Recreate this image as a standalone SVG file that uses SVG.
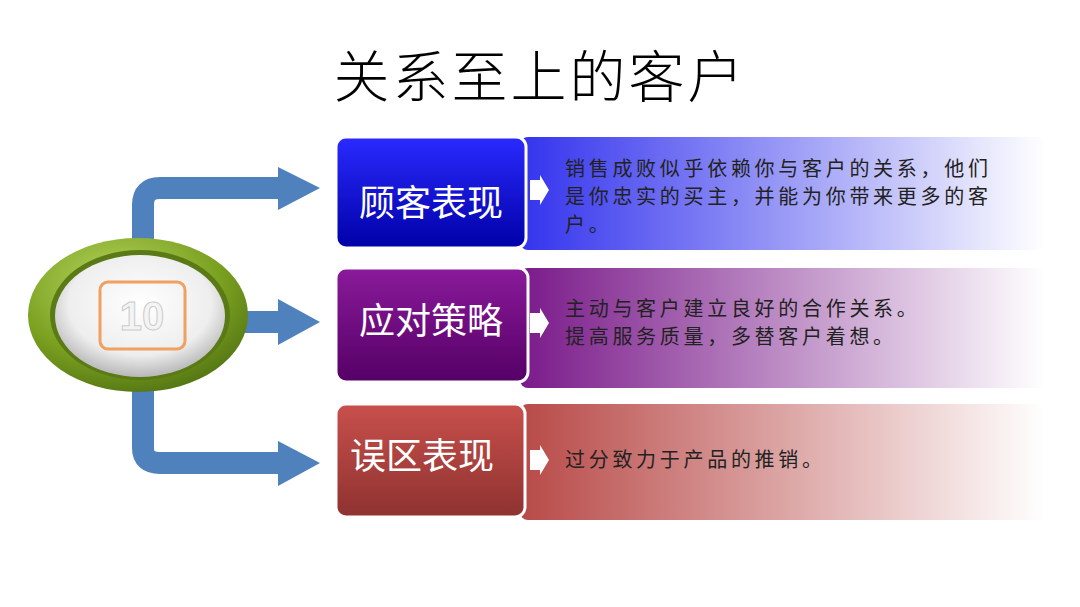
<svg xmlns="http://www.w3.org/2000/svg" width="1080" height="607" viewBox="0 0 1080 607">
<style>
.lbl{font-family:"Noto Sans CJK SC",sans-serif;font-size:36px;fill:#fff}
.desc{font-family:"Noto Sans CJK SC",sans-serif;font-size:20px;letter-spacing:3.7px;fill:#222}
.conn{fill:none;stroke:#4f81bd;stroke-width:22}
.head{fill:#4f81bd}
.box{stroke:#fff;stroke-width:3}
.sm{fill:#fff}
</style>
<defs>
<linearGradient id="gb" x1="0" y1="0" x2="0" y2="1"><stop offset="0" stop-color="#2a2aff"/><stop offset="1" stop-color="#0000a8"/></linearGradient>
<linearGradient id="gp" x1="0" y1="0" x2="0" y2="1"><stop offset="0" stop-color="#8a1a9a"/><stop offset="1" stop-color="#550066"/></linearGradient>
<linearGradient id="gr" x1="0" y1="0" x2="0" y2="1"><stop offset="0" stop-color="#c8504c"/><stop offset="1" stop-color="#8e3230"/></linearGradient>
<linearGradient id="bb"><stop offset="0" stop-color="#3333ee"/><stop offset="1" stop-color="#fff"/></linearGradient>
<linearGradient id="bp"><stop offset="0" stop-color="#7a1a8a"/><stop offset="1" stop-color="#fff"/></linearGradient>
<linearGradient id="br"><stop offset="0" stop-color="#b84a48"/><stop offset="1" stop-color="#fff"/></linearGradient>
<radialGradient id="green" cx="0.4" cy="0.3" r="0.8"><stop offset="0" stop-color="#b8d860"/><stop offset="0.6" stop-color="#7aa020"/><stop offset="1" stop-color="#4a6a10"/></radialGradient>
<radialGradient id="white" cx="0.5" cy="0.4" r="0.7"><stop offset="0" stop-color="#fff"/><stop offset="0.6" stop-color="#eee"/><stop offset="1" stop-color="#999"/></radialGradient>
</defs>
<text x="540" y="97" text-anchor="middle" font-family="Noto Sans CJK SC,sans-serif" font-weight="300" font-size="56" letter-spacing="3" fill="#000">关系至上的客户</text>
<g id="connectors">
<path class="conn" d="M143 245 V205 Q143 188 160 188 H285"/>
<polygon class="head" points="278,167 320,188 278,210"/>
<path class="conn" d="M240 322 H285"/>
<polygon class="head" points="278,299 320,322 278,345"/>
<path class="conn" d="M143 385 V448 Q143 463 160 463 H285"/>
<polygon class="head" points="278,441 320,463 278,486"/>
</g>
<g id="center">
<ellipse cx="138" cy="315" rx="110" ry="77" fill="url(#green)"/>
<ellipse cx="140" cy="315" rx="90" ry="65" fill="#5a7a15"/>
<ellipse cx="140" cy="316" rx="85" ry="61" fill="url(#white)"/>
<rect x="100" y="282" width="85" height="67" rx="8" fill="none" stroke="#f0a060" stroke-width="3"/>
<text x="142" y="330" text-anchor="middle" font-family="Liberation Sans,sans-serif" font-weight="bold" font-size="40" fill="#f4f4f4" stroke="#ccc" stroke-width="1">10</text>
</g>
<g id="n1">
<rect x="520" y="137" width="525" height="113" rx="8" fill="url(#bb)"/>
<rect class="box" x="336" y="137" width="190" height="111" rx="10" fill="url(#gb)"/>
<text class="lbl" x="431" y="216" text-anchor="middle">顾客表现</text>
<polygon class="sm" points="530,180 540,180 540,175 549,190 540,205 540,200 530,200"/>
<text class="desc" x="565" y="176">销售成败似乎依赖你与客户的关系，他们</text>
<text class="desc" x="565" y="204">是你忠实的买主，并能为你带来更多的客</text>
<text class="desc" x="565" y="232">户。</text>
</g>
<g id="n2">
<rect x="520" y="268" width="525" height="120" rx="8" fill="url(#bp)"/>
<rect class="box" x="336" y="268" width="192" height="114" rx="10" fill="url(#gp)"/>
<text class="lbl" x="431" y="334" text-anchor="middle">应对策略</text>
<polygon class="sm" points="530,313 540,313 540,308 549,323 540,338 540,333 530,333"/>
<text class="desc" x="565" y="316">主动与客户建立良好的合作关系。</text>
<text class="desc" x="565" y="344">提高服务质量，多替客户着想。</text>
</g>
<g id="n3">
<rect x="520" y="404" width="525" height="116" rx="8" fill="url(#br)"/>
<rect class="box" x="336" y="404" width="189" height="113" rx="10" fill="url(#gr)"/>
<text class="lbl" x="422" y="469" text-anchor="middle">误区表现</text>
<polygon class="sm" points="530,450 540,450 540,445 549,460 540,475 540,470 530,470"/>
<text class="desc" x="565" y="467">过分致力于产品的推销。</text>
</g>
</svg>
